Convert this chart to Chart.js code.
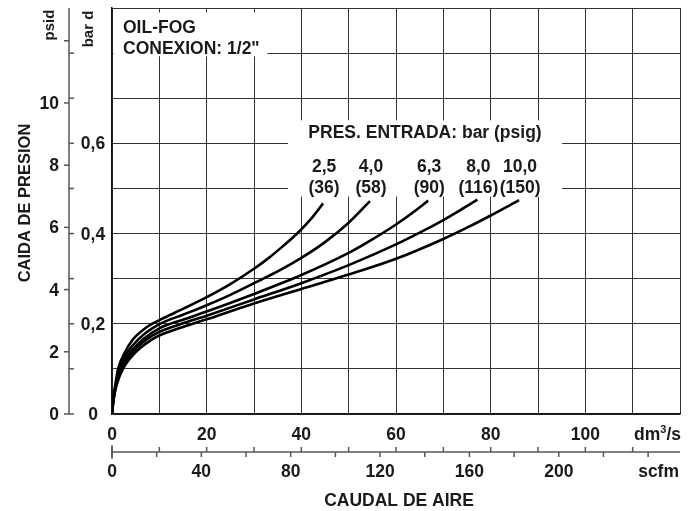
<!DOCTYPE html>
<html><head><meta charset="utf-8">
<script src="https://cdn.jsdelivr.net/npm/chart.js@4"></script>
<style>html,body{margin:0;padding:0;background:#fff}#wrap{width:695px;height:511px;position:relative}</style>
</head><body><div id="wrap"><canvas id="c"></canvas></div>
<script>
// ---- data (flow in dm3/s, pressure drop in bar d) ----
const pressureBar = ['2,5', '4,0', '6,3', '8,0', '10,0'];
const pressurePsig = ['(36)', '(58)', '(90)', '(116)', '(150)'];

const flow25 = [0, 0.3, 0.7, 1.3, 2.7, 4.4, 7, 10, 15, 20, 25, 30, 33, 36, 39, 42, 44.6];
const drop25 = [0, 0.035, 0.065, 0.1, 0.136, 0.165, 0.19, 0.208, 0.233, 0.259, 0.288, 0.322, 0.345, 0.371, 0.399, 0.432, 0.467];

const flow40 = [0, 0.3, 0.8, 1.5, 3.2, 5.5, 10, 15, 20, 25, 30, 35, 40, 45, 50, 54.5];
const drop40 = [0, 0.034, 0.065, 0.1, 0.136, 0.165, 0.199, 0.22, 0.241, 0.264, 0.29, 0.316, 0.346, 0.381, 0.424, 0.472];

const flow63 = [0, 0.3, 0.85, 1.8, 3.8, 6.5, 10, 15, 20, 30, 40, 50, 55, 60, 63.5, 66.8];
const drop63 = [0, 0.033, 0.065, 0.1, 0.136, 0.165, 0.19, 0.209, 0.227, 0.266, 0.308, 0.357, 0.387, 0.42, 0.446, 0.473];

const flow80 = [0, 0.3, 0.9, 2.0, 4.3, 7.3, 10, 15, 20, 30, 40, 50, 60, 65, 70, 73.6, 77.2];
const drop80 = [0, 0.032, 0.065, 0.1, 0.136, 0.165, 0.182, 0.201, 0.218, 0.254, 0.29, 0.33, 0.376, 0.402, 0.43, 0.452, 0.475];

const flow100 = [0, 0.3, 1.0, 2.3, 4.9, 8.4, 10, 15, 20, 30, 40, 50, 60, 70, 75, 80, 86];
const drop100 = [0, 0.03, 0.065, 0.1, 0.136, 0.165, 0.174, 0.193, 0.21, 0.245, 0.277, 0.309, 0.344, 0.388, 0.413, 0.44, 0.474];

const dmTicks = [0, 20, 40, 60, 80, 100];
const scfmTicks = [0, 40, 80, 120, 160, 200];
const psidTicks = [0, 2, 4, 6, 8, 10];
const barTicks = [0, 0.2, 0.4, 0.6];
const barTickLabels = ['0', '0,2', '0,4', '0,6'];

const BAR_TO_PSI = 14.5038;
const DM3S_TO_SCFM = 2.11888;
const FONT = '"Liberation Sans", Arial, sans-serif';
const INK = '#1a1a1a';

const series = [[flow25, drop25], [flow40, drop40], [flow63, drop63], [flow80, drop80], [flow100, drop100]];
const datasets = series.map(([f, d], i) => ({
  label: pressureBar[i],
  data: f.map((v, j) => ({ x: v, y: d[j] })),
  borderColor: '#000',
  borderWidth: 2.6,
  pointRadius: 0,
  fill: false,
  cubicInterpolationMode: 'monotone'
}));

function txt(ctx, s, x, y, align, size) {
  ctx.font = `bold ${size}px ${FONT}`;
  ctx.textAlign = align;
  ctx.textBaseline = 'alphabetic';
  ctx.fillStyle = INK;
  ctx.fillText(s, x, y);
}
function line(ctx, x1, y1, x2, y2, w, c) {
  ctx.beginPath(); ctx.moveTo(x1, y1); ctx.lineTo(x2, y2);
  ctx.lineWidth = w; ctx.strokeStyle = c; ctx.stroke();
}

const decor = {
  id: 'decor',
  beforeDatasetsDraw(chart) {
    const { ctx, scales: { x, y } } = chart;
    ctx.save();
    ctx.fillStyle = '#fff';
    let x1 = x.getPixelForValue(0) + 1.5, x2 = x.getPixelForValue(32.8);
    let y1 = y.getPixelForValue(0.89), y2 = y.getPixelForValue(0.793);
    ctx.fillRect(x1, y1, x2 - x1, y2 - y1);
    x1 = x.getPixelForValue(37.2); x2 = x.getPixelForValue(95.1);
    y1 = y.getPixelForValue(0.651); y2 = y.getPixelForValue(0.482);
    ctx.fillRect(x1, y1, x2 - x1, y2 - y1);
    ctx.restore();
  },
  afterDraw(chart) {
    const { ctx, scales: { x, y }, chartArea: ca } = chart;
    ctx.save();
    const FS = 17.5;
    txt(ctx, 'OIL-FOG', ca.left + 11, 32.5, 'left', FS);
    txt(ctx, 'CONEXION: 1/2"', ca.left + 11, 53.5, 'left', FS);
    txt(ctx, 'PRES. ENTRADA: bar (psig)', 425, 137.5, 'center', FS);
    series.forEach(([f, d], i) => {
      const px = x.getPixelForValue(f[f.length - 1]);
      txt(ctx, pressureBar[i], px + 1, y.getPixelForValue(0.537), 'center', FS);
      txt(ctx, pressurePsig[i], px + 1, y.getPixelForValue(0.49), 'center', FS);
    });
    const ax = ca.left - 43;
    line(ctx, ax, ca.top, ax, ca.bottom, 1.5, '#555');
    for (let p = 0; p <= 12; p += 2) {
      const py = y.getPixelForValue(p / BAR_TO_PSI);
      line(ctx, ax - 5, py, ax, py, 1.5, '#555');
    }
    psidTicks.forEach(p => {
      const py = y.getPixelForValue(p / BAR_TO_PSI);
      txt(ctx, String(p), ax - 10, py + 6, 'right', FS);
    });
    for (let b = 0; b <= 8; b++) {
      const py = y.getPixelForValue(b / 10);
      line(ctx, ax, py, ax + 5, py, 1.5, '#555');
    }
    barTicks.forEach((b, i) => {
      const py = y.getPixelForValue(b);
      txt(ctx, barTickLabels[i], ax + 24, py + 6, 'center', FS);
    });
    const rot = (s, cx, cy, size) => {
      ctx.save(); ctx.translate(cx, cy); ctx.rotate(-Math.PI / 2);
      txt(ctx, s, 0, 0, 'center', size); ctx.restore();
    };
    rot('psid', 54, 25, 15);
    rot('bar d', 93, 29, 15);
    rot('CAIDA DE PRESION', 29.5, 203, 16.5);
    dmTicks.forEach(v => txt(ctx, String(v), x.getPixelForValue(v), 440, 'center', FS));
    ctx.font = `bold ${FS}px ${FONT}`;
    const w1 = ctx.measureText('dm').width, w3 = ctx.measureText('/s').width;
    ctx.font = `bold 11px ${FONT}`;
    const w2 = ctx.measureText('3').width;
    let sx = ca.right + 1 - (w1 + w2 + w3);
    txt(ctx, 'dm', sx, 440, 'left', FS);
    txt(ctx, '3', sx + w1, 433, 'left', 11);
    txt(ctx, '/s', sx + w1 + w2, 440, 'left', FS);
    const sy = 452;
    line(ctx, x.getPixelForValue(0), sy, x.getPixelForValue(120), sy, 1.5, '#555');
    for (let v = 0; v <= 110; v += 10) {
      const px = x.getPixelForValue(v);
      line(ctx, px, sy - 5, px, sy, 1.5, '#555');
    }
    for (let s = 0; s <= 240; s += 20) {
      const px = x.getPixelForValue(s / DM3S_TO_SCFM);
      line(ctx, px, sy, px, sy + 5, 1.5, '#555');
    }
    line(ctx, x.getPixelForValue(0), sy - 7, x.getPixelForValue(0), sy + 7, 1.5, '#555');
    scfmTicks.forEach(s => txt(ctx, String(s), x.getPixelForValue(s / DM3S_TO_SCFM), 477, 'center', FS));
    txt(ctx, 'scfm', ca.right - 1, 477, 'right', FS);
    txt(ctx, 'CAUDAL DE AIRE', (ca.left + ca.right) / 2 + 3, 505.5, 'center', FS);
    ctx.restore();
  }
};

new Chart(document.getElementById('c'), {
  type: 'line',
  data: { datasets },
  options: {
    responsive: true,
    maintainAspectRatio: false,
    animation: false,
    events: [],
    layout: { padding: { top: 8, right: 15, left: 0, bottom: 0 } },
    plugins: { legend: { display: false }, tooltip: { enabled: false } },
    scales: {
      x: {
        type: 'linear', min: 0, max: 120,
        ticks: { stepSize: 10, display: false },
        grid: { color: '#333', lineWidth: 1, drawTicks: false },
        border: { display: true, color: '#111', width: 1.5 },
        afterFit(s) { s.height = 97; }
      },
      y: {
        type: 'linear', min: 0, max: 0.9,
        ticks: { stepSize: 0.1, display: false },
        grid: { color: '#333', lineWidth: 1, drawTicks: false },
        border: { display: true, color: '#111', width: 1.5 },
        afterFit(s) { s.width = 112; }
      }
    }
  },
  plugins: [decor]
});
</script>
</body></html>
